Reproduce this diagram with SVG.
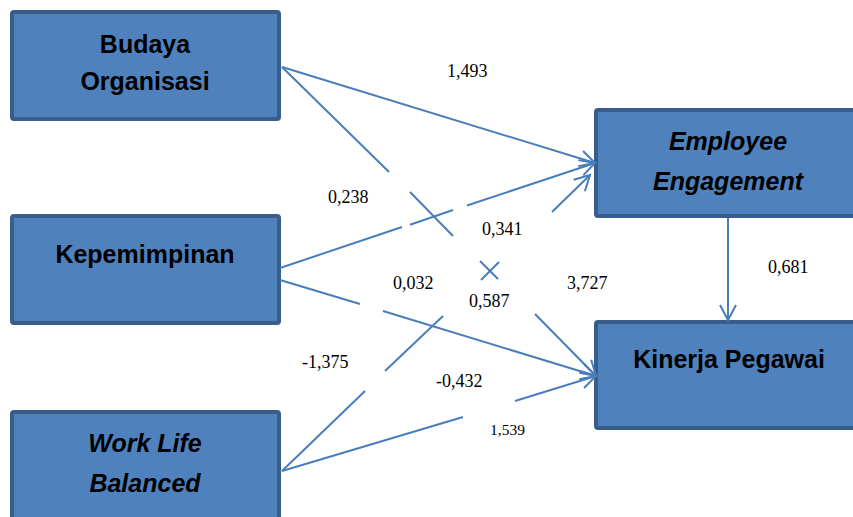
<svg xmlns="http://www.w3.org/2000/svg" width="853" height="517" viewBox="0 0 853 517">
<style>
.box{fill:#4F81BD;stroke:#385D8A;stroke-width:4}
.nt{font-family:"Liberation Sans",Arial,sans-serif;font-weight:bold;font-size:25px;fill:#000;text-anchor:middle}
.it{font-style:italic}
.lb{font-family:"Liberation Serif","Times New Roman",serif;font-size:18px;fill:#000}
.cn{fill:none;stroke:#4A7EBB;stroke-width:2}
</style>
<defs>
<marker id="ah" markerUnits="userSpaceOnUse" markerWidth="20" markerHeight="20" viewBox="-17 -10 20 20" refX="0" refY="0" orient="auto">
<path d="M-15,-8 L0,0 L-15,8" fill="none" stroke="#4A7EBB" stroke-width="2"/>
</marker>
</defs>
<rect width="853" height="517" fill="#fff"/>
<g id="budaya">
<rect class="box" x="12" y="12" width="267" height="107" rx="2"/>
<text class="nt" x="145" y="53">Budaya</text>
<text class="nt" x="145" y="90">Organisasi</text>
</g>
<g id="kepemimpinan">
<rect class="box" x="12" y="216" width="267" height="107" rx="2"/>
<text class="nt" x="145" y="263">Kepemimpinan</text>
</g>
<g id="worklife">
<rect class="box" x="12" y="412" width="267" height="112" rx="2"/>
<text class="nt it" x="145" y="452">Work Life</text>
<text class="nt it" x="145" y="492">Balanced</text>
</g>
<g id="engagement">
<rect class="box" x="596" y="110" width="270" height="106" rx="2"/>
<text class="nt it" x="728" y="150">Employee</text>
<text class="nt it" x="728" y="190">Engagement</text>
</g>
<g id="kinerja">
<rect class="box" x="596" y="322" width="270" height="106" rx="2"/>
<text class="nt" x="729" y="368">Kinerja Pegawai</text>
</g>
<g id="connectors">
<path class="cn" d="M282,67 L595,163" marker-end="url(#ah)"/>
<path class="cn" d="M282,67 L389,172 M410,192 L453,236 M480,261 L498,279 M535,314 L596,376" marker-end="url(#ah)"/>
<path class="cn" d="M280,268 L402,227 M410,224.7 L453,210 M467,205.5 L595,163" marker-end="url(#ah)"/>
<path class="cn" d="M280,280 L360,304 M383,311 L596,376" marker-end="url(#ah)"/>
<path class="cn" d="M282,471 L365,391 M385,371 L443,316 M481,280 L499,262 M552,212 L590,175" marker-end="url(#ah)"/>
<path class="cn" d="M282,471 L463,417 M515,401 L596,376" marker-end="url(#ah)"/>
<path class="cn" d="M728,218 L728,320" marker-end="url(#ah)"/>
</g>
<g id="labels">
<text class="lb" x="447" y="77">1,493</text>
<text class="lb" x="328" y="203">0,238</text>
<text class="lb" x="482" y="235">0,341</text>
<text class="lb" x="393" y="289">0,032</text>
<text class="lb" x="469" y="307">0,587</text>
<text class="lb" x="567" y="289">3,727</text>
<text class="lb" x="768" y="273">0,681</text>
<text class="lb" x="302" y="368">-1,375</text>
<text class="lb" x="436" y="387">-0,432</text>
<text class="lb" x="490" y="435" style="font-size:15.5px">1,539</text>
</g>
</svg>
